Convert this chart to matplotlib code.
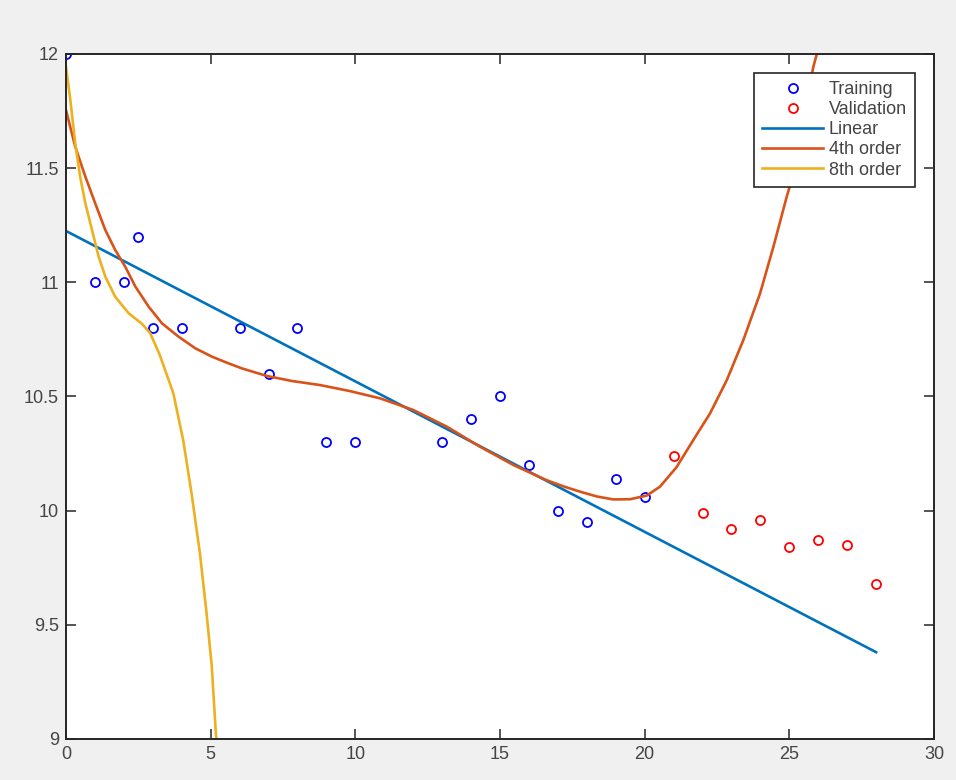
import numpy as np
import matplotlib.pyplot as plt

plt.rcParams['font.family'] = ['Liberation Sans', 'DejaVu Sans']

# training / validation points
train_x = [0, 1, 2, 2.5, 3, 4, 6, 7, 8, 9, 10, 13, 14, 15, 16, 17, 18, 19, 20]
train_y = [12.0, 11.0, 11.0, 11.2, 10.8, 10.8, 10.8, 10.6, 10.8, 10.3, 10.3,
           10.3, 10.4, 10.5, 10.2, 10.0, 9.95, 10.14, 10.06]
val_x = [21, 22, 23, 24, 25, 26, 27, 28]
val_y = [10.24, 9.99, 9.92, 9.96, 9.84, 9.87, 9.85, 9.68]

# fitted curves
lin_x = [0, 28]
lin_y = [11.225, 9.38]

p4_x = [0, 0.32, 0.67, 1.01, 1.36, 1.70, 2.05, 2.40, 2.86, 3.32, 3.89, 4.47,
        5.05, 5.62, 6.08, 6.94, 7.8, 8.78, 9.8, 10.85, 12.0, 13.16, 14.31,
        15.46, 16.6, 17.2, 17.77, 18.35, 18.92, 19.5, 20.07, 20.53, 21.1,
        21.68, 22.26, 22.84, 23.41, 23.99, 24.45, 24.91, 25.08, 25.45, 25.83,
        25.95]
p4_y = [11.755, 11.594, 11.463, 11.346, 11.229, 11.142, 11.068, 10.981, 10.893,
        10.820, 10.762, 10.711, 10.674, 10.645, 10.623, 10.590, 10.568, 10.550,
        10.524, 10.492, 10.441, 10.368, 10.280, 10.200, 10.134, 10.106, 10.083,
        10.062, 10.049, 10.050, 10.066, 10.105, 10.190, 10.309, 10.426, 10.572,
        10.747, 10.952, 11.156, 11.375, 11.448, 11.690, 11.944, 12.0]

p8_x = [0, 0.15, 0.32, 0.49, 0.67, 0.90, 1.13, 1.36, 1.70, 2.17, 2.63, 2.91,
        3.22, 3.55, 3.71, 4.05, 4.34, 4.63, 4.86, 5.04, 5.18, 5.22]
p8_y = [11.945, 11.80, 11.609, 11.463, 11.346, 11.229, 11.112, 11.025, 10.937,
        10.864, 10.818, 10.777, 10.689, 10.572, 10.514, 10.31, 10.076, 9.813,
        9.55, 9.317, 9.025, 8.98]

fig = plt.figure(figsize=(9.56, 7.8), dpi=100, facecolor='#f0f0f0')
ax = fig.add_axes([0.069, 0.0526, 0.908, 0.8782])

ax.plot(train_x, train_y, 'o', mfc='none', mec=(0, 0, 1), ms=6.5, mew=1.3,
        label='Training')
ax.plot(val_x, val_y, 'o', mfc='none', mec=(1, 0, 0), ms=6.5, mew=1.3,
        label='Validation')
ax.plot(lin_x, lin_y, color='#0072BD', lw=1.9, label='Linear')
ax.plot(p4_x, p4_y, color='#D95319', lw=1.9, label='4th order')
ax.plot(p8_x, p8_y, color='#EDB120', lw=1.9, label='8th order')

ax.set_xlim(0, 30)
ax.set_ylim(9, 12)
ax.set_xticks(np.arange(0, 31, 5))
ax.set_yticks(np.arange(9, 12.01, 0.5))
ax.set_yticklabels(['9', '9.5', '10', '10.5', '11', '11.5', '12'])
ax.tick_params(direction='in', length=7, width=1.1, top=True, right=True,
               labelsize=13, colors='#262626', labelcolor='#444444', pad=5)
for s in ax.spines.values():
    s.set_linewidth(1.4)
    s.set_color('#262626')

leg = ax.legend(loc='upper right', bbox_to_anchor=(0.978, 0.972),
                borderaxespad=0, fontsize=13, labelspacing=0.17,
                handlelength=3.4, handletextpad=0.3, borderpad=0.45,
                fancybox=False, edgecolor='#262626', framealpha=1)
leg.get_frame().set_linewidth(1.2)
for t in leg.get_texts():
    t.set_color('#444444')

fig.savefig('out.png', dpi=100, facecolor=fig.get_facecolor())
